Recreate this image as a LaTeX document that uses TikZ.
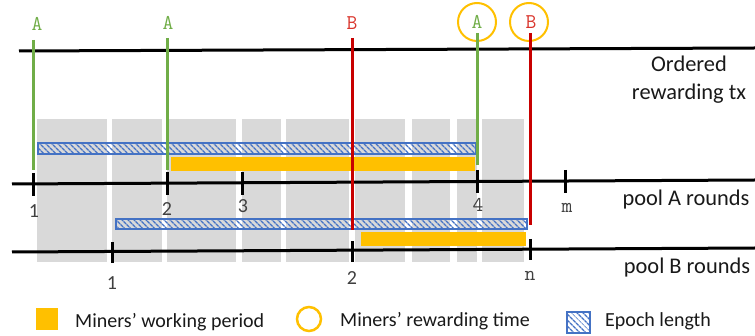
\documentclass[tikz,border=0pt]{standalone}
\usepackage{fontspec}
\setmainfont{Carlito}
\usetikzlibrary{patterns,patterns.meta}
\definecolor{txgreen}{HTML}{70AD47}
\definecolor{txred}{HTML}{C80000}
\definecolor{lblred}{HTML}{D9342B}
\definecolor{workorange}{HTML}{FFC000}
\definecolor{epochblue}{HTML}{4472C4}
\definecolor{roundgray}{HTML}{D9D9D9}
\definecolor{numgray}{HTML}{404040}
\begin{document}
\begin{tikzpicture}[x=1pt,y=-1pt,
    axis/.style={line width=3pt,black},
    txline/.style={line width=3pt},
    epoch/.style={draw=epochblue,line width=1.5pt,pattern={Lines[angle=-45,distance=4pt,line width=1.6pt]},pattern color=epochblue},
    work/.style={fill=workorange},
    roundblock/.style={fill=roundgray},
    txlbl/.style={font=\ttfamily\fontsize{21}{24}\selectfont,inner sep=0pt},
    num/.style={font=\fontsize{20}{24}\selectfont,text=numgray,inner sep=0pt,anchor=base},
    mnum/.style={font=\ttfamily\fontsize{21}{24}\selectfont,text=numgray,inner sep=0pt,anchor=base},
    sidelbl/.style={font=\fontsize{22.4}{28}\selectfont,text=black!90,inner sep=0pt,align=center,anchor=base},
    legendlbl/.style={font=\fontsize{20}{24}\selectfont,text=black!90,inner sep=0pt,anchor=base west},
    reward/.style={circle,draw=workorange,line width=2pt,minimum size=38pt,inner sep=0pt}]
        \useasboundingbox (0,0) rectangle (755,336);
        % rounds in the background
        \foreach \l/\r in {37/107,112/162,167/236,242/281,286/349,355/405,412/450,457/477,482/524}
            \fill [roundblock] (\l,119) rectangle (\r,262);
        % epochs and working periods
        \draw [epoch] (38,143) rectangle (476,154);
        \fill [work] (171,157) rectangle (475,171);
        \draw [epoch] (116,219) rectangle (527,229);
        \fill [work] (361,232) rectangle (526,246);
        % time lines
        \draw [axis] (19,51) coordinate (txs) -- (755,48) coordinate (txe);
        \draw [axis] (12,184) coordinate (pas) -- (755,180) coordinate (pae);
        \draw [axis] (12,252) coordinate (pbs) -- (755,248) coordinate (pbe);
        % ticks of pool A
        \foreach \x/\y in {33/184,167/183,242/183,477/181,565/181}
            \draw [line width=3pt] (\x,\y-11) -- (\x,\y+12);
        % ticks of pool B
        \foreach \x/\y in {112/252,352/251,530/249}
            \draw [line width=3pt] (\x,\y-10) -- (\x,\y+11);
        % rewarding tx
        \node [txlbl,text=txgreen] (lblA1) at (37,24) {A};
        \node [txlbl,text=txgreen] (lblA2) at (168,23) {A};
        \node [txlbl,text=lblred] (lblB1) at (352,23) {B};
        \node [reward] (rwA) at (477,22) {};
        \node [reward] (rwB) at (529,22) {};
        \node [txlbl,text=txgreen] (lblA3) at (rwA) {A};
        \node [txlbl,text=lblred] (lblB2) at (531,22) {B};
        \draw [txline,txgreen] (33,40) coordinate (a1t) -- (33,170) coordinate (a1b);
        \draw [txline,txgreen] (167,38) coordinate (a2t) -- (167,170) coordinate (a2b);
        \draw [txline,txred] (352,38) coordinate (b1t) -- (352,230) coordinate (b1b);
        \draw [txline,txgreen] (477,33) coordinate (a3t) -- (477,165) coordinate (a3b);
        \draw [txline,txred] (530,33) coordinate (b2t) -- (530,225) coordinate (b2b);
        % round numbers
        \node [num] (pa1) at (34,218) {1};
        \node [num] (pa2) at (167,216) {2};
        \node [num] (pa3) at (243,213) {3};
        \node [mnum] (pa4) at (478,212) {4};
        \node [mnum] (pam) at (567,213) {m};
        \node [num] (pb1) at (112,290) {1};
        \node [num] (pb2) at (352,285) {2};
        \node [mnum] (pbn) at (530,281) {n};
        % side labels
        \node [sidelbl] (txlabel) at (689,100) {Ordered\\rewarding tx};
        \node [sidelbl] (palabel) at (686,206) {pool A rounds};
        \node [sidelbl] (pblabel) at (687,274) {pool B rounds};
        % legend
        \fill [work] (36,308) rectangle (58,330);
        \node [legendlbl] (lgwork) at (75,328) {Miners’ working period};
        \node [reward,minimum size=24pt,line width=2.5pt] (lgcircle) at (309,319) {};
        \node [legendlbl] (lgreward) at (340,327) {Miners’ rewarding time};
        \draw [epoch] (567,312) rectangle (590,333);
        \node [legendlbl] (lgepoch) at (605,327) {Epoch length};
\end{tikzpicture}
\end{document}
